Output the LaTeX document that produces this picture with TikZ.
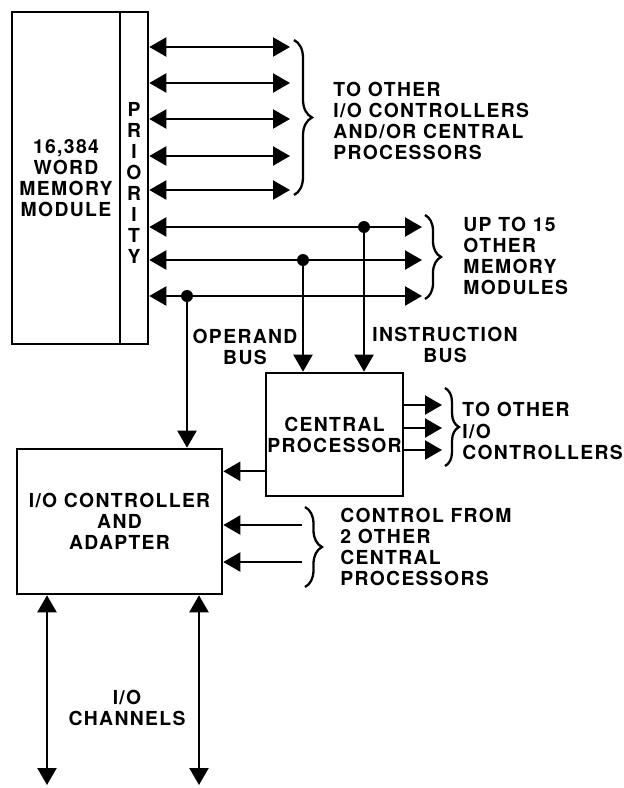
\documentclass[tikz,border=0pt]{standalone}
\usepackage{fontspec}
\setmainfont{TeX Gyre Heros}[LetterSpace=7]
\usetikzlibrary{arrows.meta, decorations.pathreplacing}

\begin{document}
\begin{tikzpicture}[
  x=0.02cm, y=-0.02cm,
  font=\fontsize{11}{12}\selectfont\bfseries,
  box/.style={draw, line width=1.5pt, inner sep=0pt},
  arrow/.style={-{Triangle[length=0.34cm, width=0.38cm]}, line width=1.3pt},
  twoway/.style={{Triangle[length=0.34cm, width=0.38cm]}-{Triangle[length=0.34cm, width=0.38cm]}, line width=1.3pt},
  dot/.style={circle, fill, inner sep=0pt, minimum size=0.24cm},
  brace/.style={decorate, decoration={brace, amplitude=#1}, line width=1.3pt},
  brace/.default=0.36cm,
  lbl/.style={align=left, anchor=west, inner sep=0pt},
  mid/.style={align=center, inner sep=0pt}
]
\useasboundingbox (0,0) rectangle (623,788);

% memory module and its priority strip
\node[box, minimum width=2.16cm, minimum height=6.64cm, align=center] (mem) at (66,178) {16,384\\WORD\\MEMORY\\MODULE};
\node[box, minimum width=0.56cm, minimum height=6.64cm] (prio) at (134,178) {};
\node[mid] (priotxt) at (134,183) {P\\R\\I\\O\\R\\I\\T\\Y};

% ports to controllers and processors
\foreach \y [count=\i] in {47,83,119,156,190}{
  \coordinate (ctl\i) at (290,\y);
  \draw[twoway] (prio.east |- ctl\i) -- (ctl\i);
}
\draw[brace] (294,40) -- (294,195);
\node[lbl] (ctltxt) at (333,121) {TO OTHER\\I/O CONTROLLERS\\AND/OR CENTRAL\\PROCESSORS};

% memory buses
\foreach \y [count=\i] in {227,260,296}{
  \coordinate (bus\i) at (422,\y);
  \draw[twoway] (prio.east |- bus\i) -- (bus\i);
}
\draw[brace=0.32cm] (425,215) -- (425,299);
\node[lbl] (bustxt) at (463,256) {UP TO 15\\OTHER\\MEMORY\\MODULES};

\node[dot] (instr) at (364,227) {};
\node[dot] (oper)  at (303,260) {};
\node[dot] (iobus) at (187,296) {};

% central processor
\node[box, minimum width=2.74cm, minimum height=2.46cm, align=center] (cp) at (334.5,434.5) {CENTRAL\\PROCESSOR};
\draw[arrow] (instr) -- (instr |- cp.north);
\draw[arrow] (oper) -- (oper |- cp.north);
\node[mid] (opertxt)  at (245,347) {OPERAND\\BUS};
\node[mid] (instrtxt) at (445,345) {INSTRUCTION\\BUS};

\foreach \y [count=\i] in {405,428,450}{
  \coordinate (cpo\i) at (442,\y);
  \draw[arrow] (cp.east |- cpo\i) -- (cpo\i);
}
\draw[brace=0.28cm] (445,388) -- (445,466);
\node[lbl] (cpotxt) at (462,431) {TO OTHER\\I/O\\CONTROLLERS};

% i/o controller
\node[box, minimum width=4.1cm, minimum height=2.9cm, align=center] (io) at (119.5,521.5) {I/O CONTROLLER\\AND\\ADAPTER};
\draw[arrow] (iobus) -- (iobus |- io.north);
\path (cp.south west) ++(0,-26) coordinate (cpio);
\draw[arrow] (cpio) -- (cpio -| io.east);

\foreach \y [count=\i] in {525,562}{
  \coordinate (ext\i) at (302,\y);
  \draw[arrow] (ext\i) -- (ext\i -| io.east);
}
\draw[brace=0.34cm] (305,507) -- (305,587);
\node[lbl] (exttxt) at (340,547) {CONTROL FROM\\2 OTHER\\CENTRAL\\PROCESSORS};

% channels
\foreach \x [count=\i] in {47,199}{
  \coordinate (chan\i) at (\x,785);
  \draw[twoway] (chan\i |- io.south) -- (chan\i);
}
\node[mid] (chantxt) at (127,708) {I/O\\CHANNELS};
\end{tikzpicture}
\end{document}
